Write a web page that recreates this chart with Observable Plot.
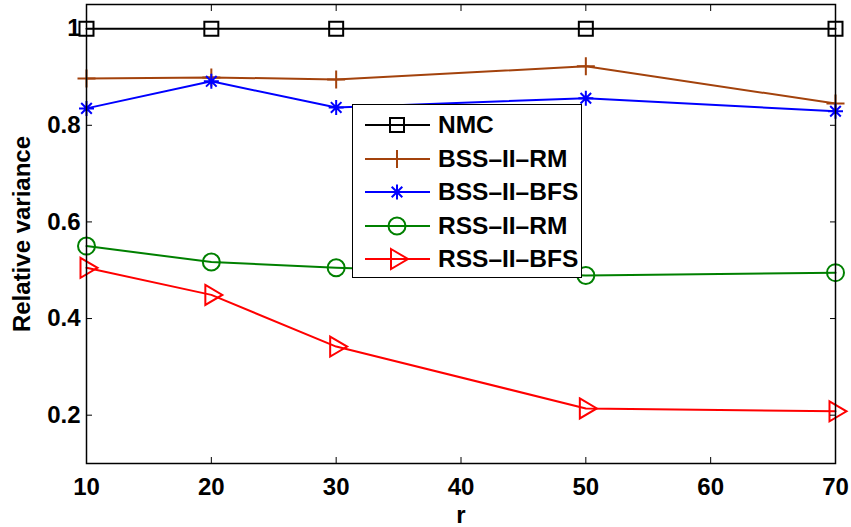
<!DOCTYPE html>
<html><head><meta charset="utf-8">
<script src="https://cdn.jsdelivr.net/npm/d3@7"></script>
<script src="https://cdn.jsdelivr.net/npm/@observablehq/plot@0.6"></script>
<style>
body{margin:0;background:#fff;}
#wrap{position:relative;width:851px;height:527px;overflow:hidden;}
#legend{position:absolute;left:352px;top:104px;width:228px;height:172px;border:1.5px solid #000;background:#fff;font:bold 24.5px "Liberation Sans",Arial,sans-serif;color:#000;}
.item{position:absolute;left:0;height:34px;width:228px;}
.item svg{position:absolute;left:0;top:0;}
.item span{position:absolute;left:85px;top:0;line-height:34px;white-space:nowrap;}
</style></head><body><div id="wrap"></div>
<script>
// ---- data ----
const r = [10, 20, 30, 50, 70];
const seriesNames = ["NMC", "BSS\u2013II\u2013RM", "BSS\u2013II\u2013BFS", "RSS\u2013II\u2013RM", "RSS\u2013II\u2013BFS"];
const nmc    = [1.000, 1.000, 1.000, 1.000, 1.000];
const bssRM  = [0.897, 0.899, 0.895, 0.922, 0.845];
const bssBFS = [0.835, 0.891, 0.837, 0.856, 0.829];
const rssRM  = [0.550, 0.517, 0.505, 0.489, 0.495];
const rssBFS = [0.505, 0.449, 0.342, 0.214, 0.208];
const xTicks = [10, 20, 30, 40, 50, 60, 70];
const yTicks = [0.2, 0.4, 0.6, 0.8, 1.0];
const yTickLabels = ["0.2", "0.4", "0.6", "0.8", "1"];

// ---- styles ----
const colors = ["#000000", "#a3420c", "#0000ff", "#008000", "#ff0000"];
const R = s => Math.sqrt(s / Math.PI);
const symSquare = {draw(c, s) { const h = R(s); c.moveTo(-h, -h); c.lineTo(h, -h); c.lineTo(h, h); c.lineTo(-h, h); c.closePath(); }};
const symPlus = {draw(c, s) { const h = R(s); c.moveTo(-h, 0); c.lineTo(h, 0); c.moveTo(0, -h); c.lineTo(0, h); }};
const symStar = {draw(c, s) { const h = R(s), d = h * 0.7071; c.moveTo(-h, 0); c.lineTo(h, 0); c.moveTo(0, -h); c.lineTo(0, h); c.moveTo(-d, -d); c.lineTo(d, d); c.moveTo(-d, d); c.lineTo(d, -d); }};
const symCircle = {draw(c, s) { const h = R(s); c.moveTo(h, 0); c.arc(0, 0, h, 0, 2 * Math.PI); c.closePath(); }};
const symTri = {draw(c, s) { const h = R(s); c.moveTo(-0.6 * h, -h); c.lineTo(1.1 * h, 0); c.lineTo(-0.6 * h, h); c.closePath(); }};
const symbols = [symSquare, symPlus, symStar, symCircle, symTri];
const radii = [7, 9, 7.5, 8.5, 10];
const allSeries = [nmc, bssRM, bssBFS, rssRM, rssBFS];

const seriesMarks = allSeries.flatMap((vals, k) => [
  Plot.line(vals, {x: (d, i) => r[i], y: d => d, stroke: colors[k], strokeWidth: 2}),
  Plot.dot(vals, {x: (d, i) => r[i], y: d => d, stroke: colors[k], fill: "none", strokeWidth: 2, symbol: symbols[k], r: radii[k]})
]);

const chart = Plot.plot({
  width: 851, height: 527,
  marginLeft: 86, marginRight: 16, marginTop: 4, marginBottom: 64,
  style: {fontFamily: '"Liberation Sans", Arial, sans-serif', fontSize: "24px", fontWeight: "bold", background: "#fff", color: "#000"},
  x: {domain: [10, 70], label: null},
  y: {domain: [0.1, 1.05], label: null},
  marks: [
    ...seriesMarks,
    Plot.axisX(xTicks, {anchor: "bottom", tickSize: -6, tickPadding: 20, tickFormat: d => String(d), label: "r", labelAnchor: "center", labelOffset: 59, labelArrow: "none"}),
    Plot.axisX(xTicks, {anchor: "top", tickSize: -6, tickFormat: () => "", label: null}),
    Plot.axisY(yTicks, {anchor: "left", tickSize: -6, tickPadding: 12, tickFormat: (d, i) => yTickLabels[yTicks.indexOf(d)], label: "Relative variance", labelAnchor: "center", labelOffset: 74, labelArrow: "none"}),
    Plot.axisY(yTicks, {anchor: "right", tickSize: -6, tickFormat: () => "", label: null}),
    Plot.frame({stroke: "#000", strokeWidth: 1.5})
  ]
});
const wrap = document.getElementById("wrap");
wrap.appendChild(chart);

// ---- legend ----
const legend = document.createElement("div");
legend.id = "legend";
const centers = [20, 54, 87, 121, 154];
seriesNames.forEach((name, k) => {
  const p = d3.path();
  symbols[k].draw(p, radii[k] * radii[k] * Math.PI);
  const item = document.createElement("div");
  item.className = "item";
  item.style.top = (centers[k] - 17) + "px";
  item.innerHTML = `<svg width="84" height="34"><line x1="12" x2="77" y1="17" y2="17" stroke="${colors[k]}" stroke-width="2"/><path transform="translate(44,17)" d="${p.toString()}" fill="none" stroke="${colors[k]}" stroke-width="2"/></svg><span>${name}</span>`;
  legend.appendChild(item);
});
wrap.appendChild(legend);
</script>
</body></html>
